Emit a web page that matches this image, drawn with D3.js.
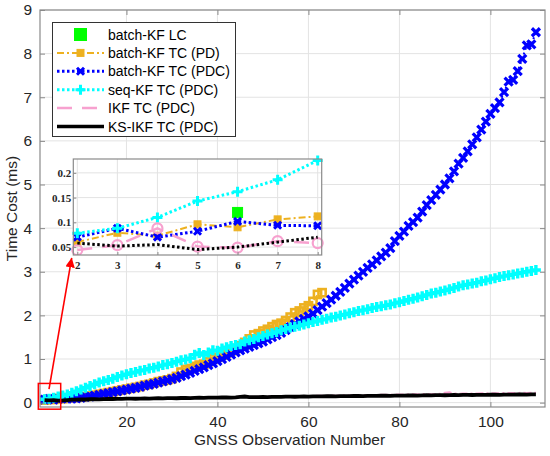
<!DOCTYPE html>
<html>
<head>
<meta charset="utf-8">
<script src="https://cdn.jsdelivr.net/npm/d3@7"></script>
<style>
  body { margin: 0; background: #fff; }
  svg { display: block; }
</style>
</head>
<body>
<svg id="chart" width="550" height="456"></svg>
<script>
// ---- data ----
const obsNumber = d3.range(2, 111)
const batchPdNumber = d3.range(2, 64)
const insetNumber = [2, 3, 4, 5, 6, 7, 8]

const batchLc = [[6, 0.12]]

const batchPd = [0.060, 0.079, 0.073, 0.096, 0.090, 0.106, 0.112, 0.12, 0.13, 0.14,
  0.15, 0.17, 0.19, 0.21, 0.23, 0.25, 0.27, 0.29, 0.31, 0.33,
  0.35, 0.37, 0.40, 0.42, 0.45, 0.48, 0.50, 0.52, 0.55, 0.60,
  0.70, 0.76, 0.78, 0.83, 0.86, 0.88, 0.94, 1.00, 1.04, 1.09,
  1.14, 1.19, 1.24, 1.30, 1.38, 1.46, 1.55, 1.58, 1.64, 1.68,
  1.74, 1.79, 1.82, 1.88, 1.96, 2.06, 2.10, 2.17, 2.22, 2.32,
  2.48, 2.52]

const batchPdc = [0.070, 0.088, 0.070, 0.082, 0.102, 0.094, 0.093, 0.10, 0.11, 0.13,
  0.14, 0.16, 0.18, 0.20, 0.22, 0.24, 0.26, 0.28, 0.30, 0.32,
  0.34, 0.36, 0.39, 0.41, 0.43, 0.46, 0.49, 0.51, 0.54, 0.57,
  0.61, 0.64, 0.68, 0.73, 0.77, 0.81, 0.86, 0.90, 0.95, 1.00,
  1.05, 1.10, 1.15, 1.20, 1.24, 1.28, 1.32, 1.36, 1.40, 1.45,
  1.50, 1.55, 1.60, 1.66, 1.73, 1.80, 1.86, 1.92, 1.98, 2.04,
  2.12, 2.20, 2.28, 2.36, 2.45, 2.54, 2.63, 2.73, 2.82, 2.91,
  3.00, 3.09, 3.17, 3.26, 3.35, 3.44, 3.54, 3.70, 3.82, 3.92,
  4.05, 4.14, 4.24, 4.38, 4.53, 4.64, 4.76, 4.88, 5.00, 5.14,
  5.30, 5.48, 5.61, 5.76, 5.92, 6.08, 6.26, 6.44, 6.62, 6.75,
  6.88, 7.12, 7.36, 7.40, 7.60, 7.88, 8.19, 8.21, 8.49]

const seqPdc = [0.078, 0.088, 0.110, 0.143, 0.162, 0.186, 0.225, 0.26, 0.30, 0.34,
  0.38, 0.42, 0.46, 0.49, 0.52, 0.55, 0.59, 0.62, 0.65, 0.68,
  0.70, 0.73, 0.75, 0.78, 0.80, 0.83, 0.86, 0.88, 0.91, 0.94,
  0.97, 0.99, 1.02, 1.10, 1.14, 1.09, 1.15, 1.20, 1.19, 1.24,
  1.27, 1.30, 1.32, 1.34, 1.40, 1.43, 1.46, 1.50, 1.53, 1.56,
  1.59, 1.62, 1.66, 1.69, 1.72, 1.74, 1.76, 1.79, 1.82, 1.85,
  1.87, 1.90, 1.92, 1.95, 1.97, 2.00, 2.02, 2.05, 2.07, 2.10,
  2.12, 2.14, 2.17, 2.19, 2.21, 2.23, 2.25, 2.28, 2.30, 2.33,
  2.36, 2.38, 2.41, 2.44, 2.47, 2.50, 2.52, 2.55, 2.57, 2.60,
  2.63, 2.66, 2.69, 2.71, 2.73, 2.75, 2.78, 2.80, 2.83, 2.85,
  2.88, 2.90, 2.92, 2.94, 2.96, 2.98, 3.00, 3.02, 3.04]

const ikfPdc = [0.044, 0.054, 0.088, 0.051, 0.049, 0.062, 0.058, 0.065, 0.070, 0.072,
  0.075, 0.080, 0.078, 0.083, 0.086, 0.084, 0.089, 0.090, 0.092, 0.095,
  0.093, 0.097, 0.100, 0.098, 0.102, 0.104, 0.101, 0.106, 0.108, 0.106,
  0.110, 0.113, 0.110, 0.115, 0.118, 0.115, 0.120, 0.122, 0.120, 0.124,
  0.126, 0.123, 0.128, 0.136, 0.146, 0.134, 0.132, 0.134, 0.137, 0.135,
  0.140, 0.142, 0.139, 0.144, 0.147, 0.145, 0.150, 0.152, 0.150, 0.155,
  0.158, 0.156, 0.160, 0.163, 0.160, 0.165, 0.168, 0.166, 0.170, 0.173,
  0.170, 0.175, 0.178, 0.175, 0.180, 0.183, 0.180, 0.185, 0.188, 0.185,
  0.190, 0.193, 0.190, 0.195, 0.198, 0.195, 0.200, 0.205, 0.225, 0.235,
  0.210, 0.205, 0.208, 0.210, 0.207, 0.212, 0.215, 0.212, 0.216, 0.218,
  0.215, 0.220, 0.222, 0.219, 0.223, 0.225, 0.222, 0.226, 0.228]

const ksIkfPdc = [0.058, 0.052, 0.055, 0.045, 0.050, 0.060, 0.070, 0.070, 0.075, 0.072,
  0.078, 0.080, 0.077, 0.082, 0.085, 0.083, 0.088, 0.086, 0.090, 0.092,
  0.089, 0.094, 0.096, 0.093, 0.098, 0.100, 0.097, 0.102, 0.104, 0.101,
  0.106, 0.108, 0.105, 0.110, 0.112, 0.109, 0.114, 0.116, 0.113, 0.118,
  0.120, 0.117, 0.122, 0.130, 0.140, 0.128, 0.125, 0.127, 0.130, 0.128,
  0.132, 0.134, 0.131, 0.136, 0.138, 0.135, 0.140, 0.142, 0.139, 0.143,
  0.145, 0.142, 0.146, 0.148, 0.145, 0.149, 0.151, 0.148, 0.152, 0.154,
  0.151, 0.155, 0.157, 0.154, 0.158, 0.160, 0.157, 0.161, 0.163, 0.160,
  0.164, 0.166, 0.163, 0.167, 0.169, 0.166, 0.170, 0.172, 0.169, 0.173,
  0.175, 0.172, 0.176, 0.178, 0.175, 0.179, 0.180, 0.178, 0.181, 0.183,
  0.180, 0.184, 0.185, 0.183, 0.186, 0.188, 0.185, 0.189, 0.190]

const mainXTicks = [20, 40, 60, 80, 100]
const mainYTicks = [0, 1, 2, 3, 4, 5, 6, 7, 8, 9]
const insetYTicks = [0.05, 0.1, 0.15, 0.2]
const legendLabels = ['batch-KF LC', 'batch-KF TC (PD)', 'batch-KF TC (PDC)', 'seq-KF TC (PDC)', 'IKF TC (PDC)', 'KS-IKF TC (PDC)']

// zoom box and arrow (data units of the main axes)
const zoomBox = {x0: 0.63, x1: 5.55, y0: -0.15, y1: 0.44}
const arrowFrom = [2.98, 0.31]
const arrowTo = [7.97, 3.32]

const ORANGE = '#edb120'
const BLUE = '#0000ff'
const CYAN = '#00ffff'
const PINK = '#f7a1cf'
const GREEN = '#00ff00'
const SANS = '"Liberation Sans", Arial, sans-serif'
const SERIF = '"Liberation Serif", "Times New Roman", serif'
const GRID = '#e3e3e3'
const BOX = '#8a8a8a'

const zipXY = (xs, ys) => xs.map((x, i) => [x, ys[i]])
const pick = (xs, ys, keep) => zipXY(xs, ys).filter((d) => keep.includes(d[0]))

const svg = d3.select('#chart')

// ---- main axes ----
const m = {left: 40, right: 545, top: 10, bottom: 407}
const x = d3.scaleLinear().domain([1, 112]).range([m.left, m.right])
const y = d3.scaleLinear().domain([-0.1, 9]).range([m.bottom, m.top])

const main = svg.append('g')

main.append('g').selectAll('line.gx').data(mainXTicks).enter().append('line')
  .attr('x1', (d) => x(d)).attr('x2', (d) => x(d))
  .attr('y1', m.top).attr('y2', m.bottom)
  .attr('stroke', GRID).attr('stroke-width', 1)
main.append('g').selectAll('line.gy').data(mainYTicks).enter().append('line')
  .attr('y1', (d) => y(d)).attr('y2', (d) => y(d))
  .attr('x1', m.left).attr('x2', m.right)
  .attr('stroke', GRID).attr('stroke-width', 1)

svg.append('clipPath').attr('id', 'mainClip').append('rect')
  .attr('x', m.left).attr('y', m.top).attr('width', m.right - m.left).attr('height', m.bottom - m.top)

function drawMarks(g, sx, sy, pts, kind, size, color, sw, fill) {
  if (kind === 'square') {
    g.selectAll(null).data(pts).enter().append('rect')
      .attr('x', (d) => sx(d[0]) - size).attr('y', (d) => sy(d[1]) - size)
      .attr('width', size * 2).attr('height', size * 2)
      .attr('fill', fill || 'none').attr('stroke', color).attr('stroke-width', sw)
  } else if (kind === 'circle') {
    g.selectAll(null).data(pts).enter().append('circle')
      .attr('cx', (d) => sx(d[0])).attr('cy', (d) => sy(d[1])).attr('r', size)
      .attr('fill', 'none').attr('stroke', color).attr('stroke-width', sw)
  } else {
    const p = kind === 'x'
      ? `M${-size},${-size}L${size},${size}M${-size},${size}L${size},${-size}`
      : `M${-size},0H${size}M0,${-size}V${size}`
    g.selectAll(null).data(pts).enter().append('path')
      .attr('transform', (d) => `translate(${sx(d[0])},${sy(d[1])})`)
      .attr('d', p).attr('stroke', color).attr('stroke-width', sw).attr('fill', 'none')
  }
}

function drawLine(g, sx, sy, pts, color, sw, dash) {
  const line = d3.line().x((d) => sx(d[0])).y((d) => sy(d[1]))
  g.append('path').datum(pts).attr('d', line)
    .attr('fill', 'none').attr('stroke', color).attr('stroke-width', sw)
    .attr('stroke-dasharray', dash || null)
}

const plot = main.append('g').attr('clip-path', 'url(#mainClip)')

const pdPts = zipXY(batchPdNumber, batchPd)
const pdcPts = zipXY(obsNumber, batchPdc)
const seqPts = zipXY(obsNumber, seqPdc)
const ikfPts = zipXY(obsNumber, ikfPdc)
const ksPts = zipXY(obsNumber, ksIkfPdc)

drawMarks(plot, x, y, batchLc, 'square', 4, GREEN, 1, GREEN)
drawLine(plot, x, y, pdPts, ORANGE, 1.5, '6,3,2,3')
drawMarks(plot, x, y, pdPts, 'square', 3.6, ORANGE, 2.6)
drawLine(plot, x, y, pdcPts, BLUE, 2, '2,3')
drawMarks(plot, x, y, pdcPts, 'x', 4, BLUE, 3.2)
drawLine(plot, x, y, seqPts, CYAN, 2, '2,3')
drawMarks(plot, x, y, seqPts, 'plus', 5, CYAN, 3.4)
drawLine(plot, x, y, ikfPts, PINK, 2, '8,3,2,3')
drawLine(plot, x, y, ksPts, '#000', 3.8)

// box + ticks
main.append('rect').attr('x', m.left).attr('y', m.top)
  .attr('width', m.right - m.left).attr('height', m.bottom - m.top)
  .attr('fill', 'none').attr('stroke', BOX).attr('stroke-width', 1.2)

const xAxis = d3.axisBottom(x).tickValues(mainXTicks).tickSizeInner(-5).tickSizeOuter(0).tickPadding(9)
const yAxis = d3.axisLeft(y).tickValues(mainYTicks).tickSizeInner(-5).tickSizeOuter(0).tickPadding(8)
const gx = main.append('g').attr('transform', `translate(0,${m.bottom})`).call(xAxis)
const gy = main.append('g').attr('transform', `translate(${m.left},0)`).call(yAxis)
const gxt = main.append('g').attr('transform', `translate(0,${m.top})`)
  .call(d3.axisTop(x).tickValues(mainXTicks).tickSizeInner(-5).tickSizeOuter(0).tickFormat(''))
const gyr = main.append('g').attr('transform', `translate(${m.right},0)`)
  .call(d3.axisRight(y).tickValues(mainYTicks).tickSizeInner(-5).tickSizeOuter(0).tickFormat(''))
;[gx, gy, gxt, gyr].forEach((g) => {
  g.select('.domain').remove()
  g.selectAll('.tick line').attr('stroke', BOX)
  g.selectAll('.tick text').attr('font-size', 15.5).attr('fill', '#262626').attr('font-family', SANS)
})

svg.append('text').attr('x', (m.left + m.right) / 2 - 3).attr('y', 445)
  .attr('text-anchor', 'middle').attr('font-family', SANS).attr('font-size', 15.5).attr('fill', '#262626')
  .text('GNSS Observation Number')
svg.append('text').attr('transform', `translate(17,${(m.top + m.bottom) / 2}) rotate(-90)`)
  .attr('text-anchor', 'middle').attr('font-family', SANS).attr('font-size', 15.5).attr('fill', '#262626')
  .text('Time Cost (ms)')

// ---- zoom box + arrow ----
svg.append('rect')
  .attr('x', x(zoomBox.x0)).attr('y', y(zoomBox.y1))
  .attr('width', x(zoomBox.x1) - x(zoomBox.x0)).attr('height', y(zoomBox.y0) - y(zoomBox.y1))
  .attr('fill', 'none').attr('stroke', '#ff0000').attr('stroke-width', 1.5)

svg.append('defs').append('marker').attr('id', 'arrowHead')
  .attr('viewBox', '0 0 10 10').attr('refX', 10).attr('refY', 5)
  .attr('markerWidth', 6).attr('markerHeight', 6).attr('markerUnits', 'strokeWidth')
  .attr('orient', 'auto')
  .append('path').attr('d', 'M0,0L10,5L0,10z').attr('fill', '#ff0000')
svg.append('line')
  .attr('x1', x(arrowFrom[0])).attr('y1', y(arrowFrom[1]))
  .attr('x2', x(arrowTo[0])).attr('y2', y(arrowTo[1]))
  .attr('stroke', '#ff0000').attr('stroke-width', 1.6).attr('marker-end', 'url(#arrowHead)')

// ---- legend ----
const lg = svg.append('g')
lg.append('rect').attr('x', 52.5).attr('y', 22.5).attr('width', 183).attr('height', 114)
  .attr('fill', '#fff').attr('stroke', '#333').attr('stroke-width', 1)
const rowY = (i) => 34.5 + i * 18.4
const lx0 = 57, lx1 = 104, lmid = 80.5
const px = (d) => d
legendLabels.forEach((label, i) => {
  const yy = rowY(i)
  const row = lg.append('g')
  if (i === 0) {
    drawMarks(row, px, px, [[lmid, yy]], 'square', 6, GREEN, 1, GREEN)
  } else if (i === 1) {
    drawLine(row, px, px, [[lx0, yy], [lx1, yy]], ORANGE, 2, '7,3,2,3')
    drawMarks(row, px, px, [[lmid, yy]], 'square', 3.5, ORANGE, 1, ORANGE)
  } else if (i === 2) {
    drawLine(row, px, px, [[lx0, yy], [lx1, yy]], BLUE, 3, '2.5,2.5')
    drawMarks(row, px, px, [[lmid, yy]], 'x', 3.5, BLUE, 3)
  } else if (i === 3) {
    drawLine(row, px, px, [[lx0, yy], [lx1, yy]], CYAN, 3, '2.5,2.5')
    drawMarks(row, px, px, [[lmid, yy]], 'plus', 5, CYAN, 3)
  } else if (i === 4) {
    drawLine(row, px, px, [[lx0, yy], [lx1 - 6, yy]], PINK, 2.5, '15,10')
  } else {
    drawLine(row, px, px, [[lx0, yy], [lx1, yy]], '#000', 3.5)
  }
  row.append('text').attr('x', 108).attr('y', yy + 5)
    .attr('font-family', SANS).attr('font-size', 14).attr('fill', '#000').text(label)
})

// ---- inset ----
const n = {left: 73.3, right: 321.7, top: 159, bottom: 255}
const ix = d3.scaleLinear().domain([1.9, 8.1]).range([n.left, n.right])
const iy = d3.scaleLinear().domain([0.034, 0.228]).range([n.bottom, n.top])
const inset = svg.append('g')
inset.append('rect').attr('x', n.left).attr('y', n.top)
  .attr('width', n.right - n.left).attr('height', n.bottom - n.top).attr('fill', '#fff')
inset.append('g').selectAll(null).data(insetNumber).enter().append('line')
  .attr('x1', (d) => ix(d)).attr('x2', (d) => ix(d)).attr('y1', n.top).attr('y2', n.bottom)
  .attr('stroke', GRID)
inset.append('g').selectAll(null).data(insetYTicks).enter().append('line')
  .attr('y1', (d) => iy(d)).attr('y2', (d) => iy(d)).attr('x1', n.left).attr('x2', n.right)
  .attr('stroke', GRID)

svg.append('clipPath').attr('id', 'insetClip').append('rect')
  .attr('x', n.left - 6).attr('y', n.top - 6).attr('width', n.right - n.left + 12).attr('height', n.bottom - n.top + 6)
const ip = inset.append('g').attr('clip-path', 'url(#insetClip)')

drawMarks(ip, ix, iy, batchLc, 'square', 5, GREEN, 1, GREEN)
const iPd = pick(batchPdNumber, batchPd, insetNumber)
const iPdc = pick(obsNumber, batchPdc, insetNumber)
const iSeq = pick(obsNumber, seqPdc, insetNumber)
const iIkf = pick(obsNumber, ikfPdc, insetNumber)
const iKs = pick(obsNumber, ksIkfPdc, insetNumber)
drawLine(ip, ix, iy, iPd, ORANGE, 2, '7,3,2,3')
drawMarks(ip, ix, iy, iPd, 'square', 3.5, ORANGE, 1, ORANGE)
drawLine(ip, ix, iy, iPdc, BLUE, 3, '2.5,2.5')
drawMarks(ip, ix, iy, iPdc, 'x', 3.5, BLUE, 3)
drawLine(ip, ix, iy, iSeq, CYAN, 3, '2.5,2.5')
drawMarks(ip, ix, iy, iSeq, 'plus', 5, CYAN, 3)
drawLine(ip, ix, iy, iIkf, PINK, 2.5, '15,10')
drawMarks(ip, ix, iy, iIkf, 'circle', 5, PINK, 2.2)
drawLine(ip, ix, iy, iKs, '#000', 3, '2.5,2.5')

inset.append('rect').attr('x', n.left).attr('y', n.top)
  .attr('width', n.right - n.left).attr('height', n.bottom - n.top)
  .attr('fill', 'none').attr('stroke', BOX).attr('stroke-width', 1.2)

const ixa = inset.append('g').attr('transform', `translate(0,${n.bottom})`)
  .call(d3.axisBottom(ix).tickValues(insetNumber).tickFormat(d3.format('d'))
    .tickSizeInner(-3).tickSizeOuter(0).tickPadding(6))
const iya = inset.append('g').attr('transform', `translate(${n.left},0)`)
  .call(d3.axisLeft(iy).tickValues(insetYTicks).tickFormat(d3.format('~g'))
    .tickSizeInner(-3).tickSizeOuter(0).tickPadding(2))
;[ixa, iya].forEach((g) => {
  g.select('.domain').remove()
  g.selectAll('.tick line').attr('stroke', BOX)
  g.selectAll('.tick text').attr('font-family', SERIF).attr('font-weight', 'bold')
    .attr('font-size', 11).attr('fill', '#262626')
})
</script>
</body>
</html>
